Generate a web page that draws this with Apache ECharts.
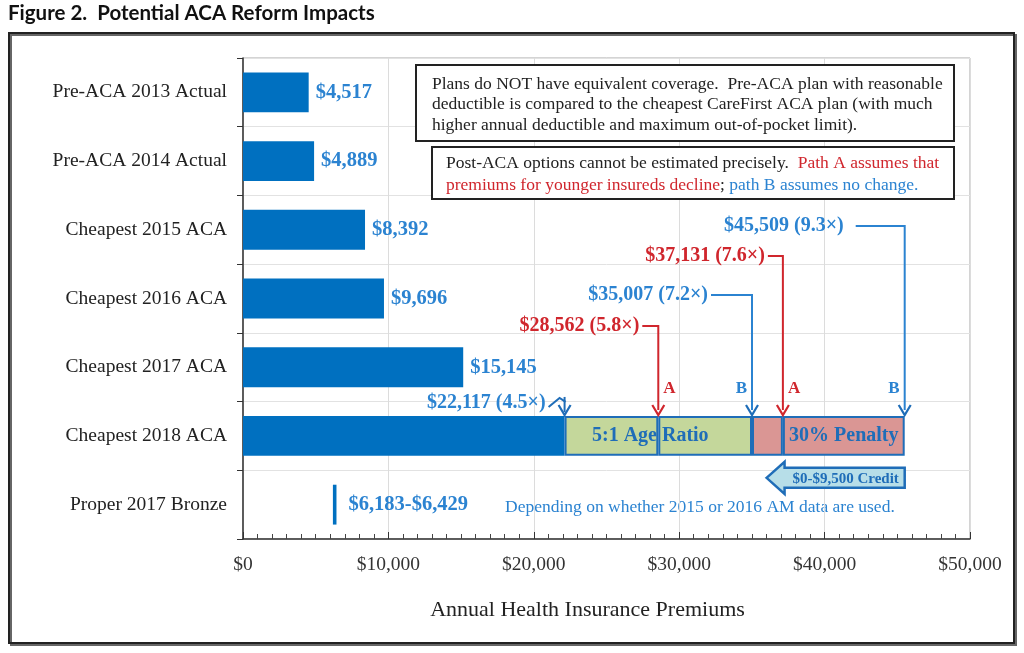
<!DOCTYPE html>
<html>
<head>
<meta charset="utf-8">
<script src="https://cdn.jsdelivr.net/npm/echarts@6/dist/echarts.min.js"></script>
<style>
html, body { margin: 0; padding: 0; background: #fff; }
#main { width: 1024px; height: 653px; }
</style>
</head>
<body>
<div id="main"></div>
<script>
// values
var categories = ['Pre-ACA 2013 Actual', 'Pre-ACA 2014 Actual', 'Cheapest 2015 ACA', 'Cheapest 2016 ACA',
    'Cheapest 2017 ACA', 'Cheapest 2018 ACA', 'Proper 2017 Bronze'];
var premiums = [4517, 4889, 8392, 9696, 15145, 22117];
var bronzeRange = [6183, 6429];
var baseMultiple = 4.5;
var pathA = [28562, 37131];
var pathAMultiple = [5.8, 7.6];
var pathB = [35007, 45509];
var pathBMultiple = [7.2, 9.3];
var creditMax = 9500;
var segmentNames = ['5:1 Age Ratio', '30% Penalty'];

var BLUE = '#0070C0', LBLUE = '#2B83D1', RED = '#D0262D', DBLUE = '#1F6DB8';
var SERIF = '"Liberation Serif", "Times New Roman", serif';
var row2018 = 5, rowBronze = 6;

function money(v) { return '$' + Number(v).toLocaleString('en-US'); }
function only(idx, v) {
    var a = categories.map(function () { return '-'; });
    a[idx] = v;
    return a;
}

// 2018 bar pieces: base, age ratio (A, B), penalty (A, B)
var edges = [premiums[row2018], pathA[0], pathB[0], pathA[1], pathB[1]];
var segColors = ['#C4D79B', '#C4D79B', '#DA9694', '#DA9694'];

var notes = [
    { v: premiums[row2018], m: baseMultiple, path: 'base' },
    { v: pathA[0], m: pathAMultiple[0], path: 'A' },
    { v: pathA[1], m: pathAMultiple[1], path: 'A' },
    { v: pathB[0], m: pathBMultiple[0], path: 'B' },
    { v: pathB[1], m: pathBMultiple[1], path: 'B' }
];
// where each callout label sits (row, offset in bands, gap to arrow in px)
var noteLayout = [
    { row: 5, dy: -0.48, gap: 19, lead: 3 },
    { row: 3, dy: 0.40, gap: 19, lead: 3 },
    { row: 2, dy: 0.38, gap: 18, lead: 3 },
    { row: 3, dy: -0.05, gap: 44, lead: 3 },
    { row: 2, dy: -0.055, gap: 61, lead: 12 }
];

var chartDom = document.getElementById('main');
var myChart = echarts.init(chartDom);

var mainData = premiums.map(function (v, i) {
    return i === row2018 ? { value: v, label: { show: false } } : v;
});
mainData.push({ value: bronzeRange[0], itemStyle: { color: 'transparent' }, label: { show: false } });

var series = [{
    name: 'premium',
    type: 'bar',
    stack: 'total',
    barWidth: '58%',
    itemStyle: { color: BLUE },
    label: {
        show: true, position: 'right', distance: 7,
        color: LBLUE, fontFamily: SERIF, fontWeight: 'bold', fontSize: 20.5,
        formatter: function (p) { return money(p.value); }
    },
    data: mainData
}, {
    name: 'bronze',
    type: 'bar',
    stack: 'total',
    barWidth: '52%',
    itemStyle: { color: BLUE },
    label: {
        show: true, position: 'right', distance: 12,
        color: LBLUE, fontFamily: SERIF, fontWeight: 'bold', fontSize: 20.5,
        formatter: function () { return money(bronzeRange[0]) + '-' + money(bronzeRange[1]); }
    },
    data: only(rowBronze, bronzeRange[1] - bronzeRange[0])
}];

for (var s = 0; s < 4; s++) {
    series.push({
        name: 'seg' + s,
        type: 'bar',
        stack: 'total',
        barWidth: '58%',
        itemStyle: { color: segColors[s], borderColor: DBLUE, borderWidth: 2 },
        data: only(row2018, edges[s + 1] - edges[s])
    });
}

// callout arrows
series.push({
    name: 'notes',
    type: 'custom',
    clip: false,
    z: 10,
    encode: { x: 0, y: 1 },
    data: notes.map(function (n) { return [n.v, row2018]; }),
    renderItem: function (params, api) {
        var n = notes[params.dataIndex], lay = noteLayout[params.dataIndex];
        var band = api.size([0, 1])[1];
        var pt = api.coord([api.value(0), row2018]);
        var x = pt[0], barTop = pt[1] - band * 0.29;
        var ly = api.coord([0, lay.row])[1] + lay.dy * band;
        var tx = x - lay.gap;
        var color = n.path === 'A' ? RED : LBLUE;
        var kids = [{
            type: 'text',
            style: {
                text: money(n.v) + ' (' + n.m + '×)', x: tx, y: ly, align: 'right', verticalAlign: 'middle',
                font: 'bold 20px ' + SERIF, fill: color
            }
        }];
        if (n.path === 'base') {
            kids.push({
                type: 'polyline',
                shape: { points: [[tx + 3, ly + 4], [x - 5, ly - 5], [x + 1, ly - 1]] },
                style: { stroke: DBLUE, lineWidth: 2, fill: null }
            });
            kids.push({
                type: 'line',
                shape: { x1: x, y1: ly - 6, x2: x, y2: barTop - 4 },
                style: { stroke: DBLUE, lineWidth: 2 }
            });
        } else {
            kids.push({
                type: 'polyline',
                shape: { points: [[tx + lay.lead, ly], [x, ly], [x, barTop - 6]] },
                style: { stroke: color, lineWidth: 2, fill: null }
            });
            kids.push({
                type: 'text',
                style: {
                    text: n.path, x: n.path === 'A' ? x + 5 : x - 5, y: barTop - 27,
                    align: n.path === 'A' ? 'left' : 'right', verticalAlign: 'middle',
                    font: 'bold 17px ' + SERIF, fill: color
                }
            });
        }
        var ac = n.path === 'A' ? RED : DBLUE;
        kids.push({
            type: 'polyline',
            shape: { points: [[x - 6, barTop - 11], [x, barTop - 1], [x + 6, barTop - 11]] },
            style: { stroke: ac, lineWidth: 2.2, fill: null }
        });
        return { type: 'group', children: kids };
    }
});

// labels inside the 2018 pieces
series.push({
    name: 'segLabels',
    type: 'custom',
    clip: false,
    z: 11,
    encode: { x: 0, y: 1 },
    data: [[(edges[0] + edges[2]) / 2, row2018], [(edges[3] + edges[4]) / 2, row2018]],
    renderItem: function (params, api) {
        var pt = api.coord([api.value(0), row2018]);
        return {
            type: 'text',
            style: {
                text: segmentNames[params.dataIndex], x: pt[0] - (params.dataIndex === 0 ? 8 : 0), y: pt[1],
                align: 'center', verticalAlign: 'middle',
                font: 'bold 20px ' + SERIF, fill: DBLUE
            }
        };
    }
});

// credit arrow (pointing left from path B max)
series.push({
    name: 'credit',
    type: 'custom',
    clip: false,
    z: 11,
    encode: { x: 0, y: 1 },
    data: [[pathB[1], row2018]],
    renderItem: function (params, api) {
        var band = api.size([0, 1])[1];
        var right = api.coord([api.value(0), row2018]);
        var tip = api.coord([api.value(0) - creditMax, row2018])[0];
        var x1 = right[0], cy = right[1] + band * 0.61, hx = tip + 18;
        return {
            type: 'group',
            children: [{
                type: 'polygon',
                shape: { points: [[tip, cy], [hx, cy - 16], [hx, cy - 10], [x1, cy - 10], [x1, cy + 10], [hx, cy + 10], [hx, cy + 16]] },
                style: { fill: '#B7DEE8', stroke: DBLUE, lineWidth: 2.5 }
            }, {
                type: 'text',
                style: {
                    text: '$0-' + money(creditMax) + ' Credit', x: (hx + x1) / 2 + 1, y: cy + 1, align: 'center',
                    verticalAlign: 'middle', font: 'bold 15px ' + SERIF, fill: DBLUE
                }
            }]
        };
    }
});

var option = {
    animation: false,
    backgroundColor: '#fff',
    grid: { left: 243, right: 54, top: 58, bottom: 114, show: true, borderColor: '#a8a8a8', borderWidth: 1 },
    xAxis: {
        type: 'value',
        min: 0, max: 50000, interval: 10000,
        axisLine: { show: true, lineStyle: { color: '#333', width: 1.5 } },
        axisTick: { show: true, inside: true, length: 7, lineStyle: { color: '#333' } },
        minorTick: { show: true, splitNumber: 10, length: 5, lineStyle: { color: '#444' } },
        splitLine: { show: true, lineStyle: { color: '#dcdcdc' } },
        axisLabel: {
            color: '#333', fontFamily: SERIF, fontSize: 19.5, margin: 16,
            formatter: function (v) { return money(v); }
        },
        name: 'Annual Health Insurance Premiums',
        nameLocation: 'middle', nameGap: 60,
        nameTextStyle: { color: '#222', fontFamily: SERIF, fontSize: 22, padding: [0, 38, 0, 0] }
    },
    yAxis: {
        type: 'category',
        inverse: true,
        data: categories,
        axisLine: { show: true, lineStyle: { color: '#333', width: 1.5 } },
        axisTick: { show: true, length: 6, lineStyle: { color: '#333' } },
        splitLine: { show: true, lineStyle: { color: '#e2e2e2' } },
        axisLabel: { color: '#222', fontFamily: SERIF, fontSize: 19.5, margin: 16 }
    },
    graphic: [{
        type: 'text', left: 8, top: 3,
        style: { text: 'Figure 2.  Potential ACA Reform Impacts', font: 'bold 20.5px Lato, "Noto Sans", sans-serif', fill: '#111' }
    }, {
        type: 'rect', shape: { x: 9, y: 33, width: 1005, height: 610 },
        style: { fill: null, stroke: '#222', lineWidth: 2, shadowColor: '#666', shadowOffsetX: 2, shadowOffsetY: 2 }
    }, {
        type: 'rect', z: 20, shape: { x: 416, y: 65, width: 538, height: 76 },
        style: { fill: '#fff', stroke: '#222', lineWidth: 2 }
    }, {
        type: 'text', z: 21, x: 432, y: 74,
        style: {
            text: 'Plans do NOT have equivalent coverage.  Pre-ACA plan with reasonable\ndeductible is compared to the cheapest CareFirst ACA plan (with much\nhigher annual deductible and maximum out-of-pocket limit).',
            font: '17.5px ' + SERIF, fill: '#222', lineHeight: 20.5
        }
    }, {
        type: 'rect', z: 20, shape: { x: 432, y: 147, width: 522, height: 52 },
        style: { fill: '#fff', stroke: '#222', lineWidth: 2 }
    }, {
        type: 'text', z: 21, x: 446, y: 152,
        style: {
            text: '{k|Post-ACA options cannot be estimated precisely.  }{r|Path A assumes that}\n{r|premiums for younger insureds decline}{k|; }{b|path B assumes no change.}',
            font: '17.5px ' + SERIF, lineHeight: 22,
            rich: {
                k: { fill: '#222', font: '17.5px ' + SERIF, lineHeight: 22 },
                r: { fill: RED, font: '17.5px ' + SERIF, lineHeight: 22 },
                b: { fill: LBLUE, font: '17.5px ' + SERIF, lineHeight: 22 }
            }
        }
    }, {
        type: 'text', x: 505, y: 507,
        style: {
            text: 'Depending on whether 2015 or 2016 AM data are used.', font: '17.5px ' + SERIF,
            fill: LBLUE, verticalAlign: 'middle'
        }
    }],
    series: series
};

myChart.setOption(option);
</script>
</body>
</html>
